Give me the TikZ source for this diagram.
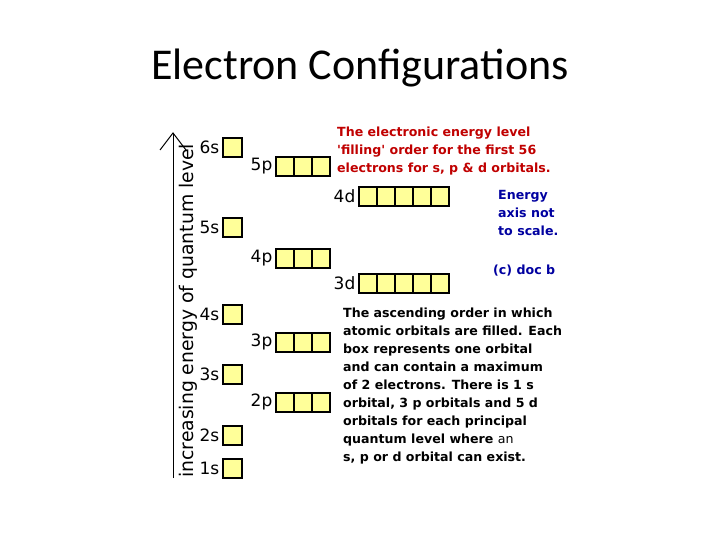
\documentclass[tikz,border=0pt]{standalone}
\usepackage{fontspec}
\setmainfont{DejaVu Sans}
\newfontfamily\titlefont{Carlito}
\definecolor{boxy}{HTML}{FFFF99}
\definecolor{redt}{HTML}{C00000}
\definecolor{bluet}{HTML}{0000A0}
\begin{document}
\begin{tikzpicture}[x=1pt,y=-1pt,
  orb/.style={draw=black,line width=1.8pt,fill=boxy,minimum width=18pt,minimum height=19pt,inner sep=0pt,anchor=north west},
  lab/.style={font=\fontsize{17}{20}\selectfont,anchor=east,inner sep=2.5pt},
  note/.style={font=\bfseries\fontsize{12.6}{18}\selectfont,align=left,anchor=north west,inner sep=0pt}]
\useasboundingbox (0,0) rectangle (720,540);
\node (title) at (360,68) {\titlefont\fontsize{44}{46}\selectfont Electron Configurations};
% axis
\coordinate (ab) at (173,478);
\coordinate (at) at (173,133);
\draw[line width=1pt] (ab) -- (at);
\draw[line width=1pt] (160,150) -- (at) -- (186,150);
\node[rotate=90,anchor=west,font=\fontsize{18.8}{21}\selectfont,inner sep=0pt] (axlab) at (188,478) {increasing energy of quantum level};
% s
\foreach \n/\y in {6/137,5/217,4/304,3/364,2/425,1/458}{
  \node[orb,minimum width=19pt] (s\n) at (222,\y) {};
  \node[lab] (ls\n) at (s\n.west) {\n s};
}
% p
\foreach \n/\y in {5/156,4/248,3/332,2/392}{
  \node[orb] (p\n a) at (275,\y) {};
  \node[orb] (p\n b) at (293,\y) {};
  \node[orb] (p\n c) at (311,\y) {};
  \node[lab] (lp\n) at (p\n a.west) {\n p};
}
% d
\foreach \n/\y in {4/186,3/273}{
  \node[orb] (d\n a) at (358,\y) {};
  \node[orb] (d\n b) at (376,\y) {};
  \node[orb] (d\n c) at (394,\y) {};
  \node[orb] (d\n d) at (412,\y) {};
  \node[orb] (d\n e) at (430,\y) {};
  \node[lab] (ld\n) at (d\n a.west) {\n d};
}
\node[note,text=redt] (red) at (337,127) {The electronic energy level\\\textquotesingle filling\textquotesingle{} order for the first 56\\electrons for s, p \& d orbitals.};
\node[note,text=bluet] (blue) at (498,190) {Energy\\axis not\\to scale.};
\node[note,text=bluet] (doc) at (493,265) {(c) doc b};
\node[note] (black) at (343,308) {The ascending order in which\\atomic orbitals are filled. Each\\box represents one orbital\\and can contain a maximum\\of 2 electrons. There is 1 s\\orbital, 3 p orbitals and 5 d\\orbitals for each principal\\quantum level where {\mdseries an}\\s, p or d orbital can exist.};
\end{tikzpicture}
\end{document}
